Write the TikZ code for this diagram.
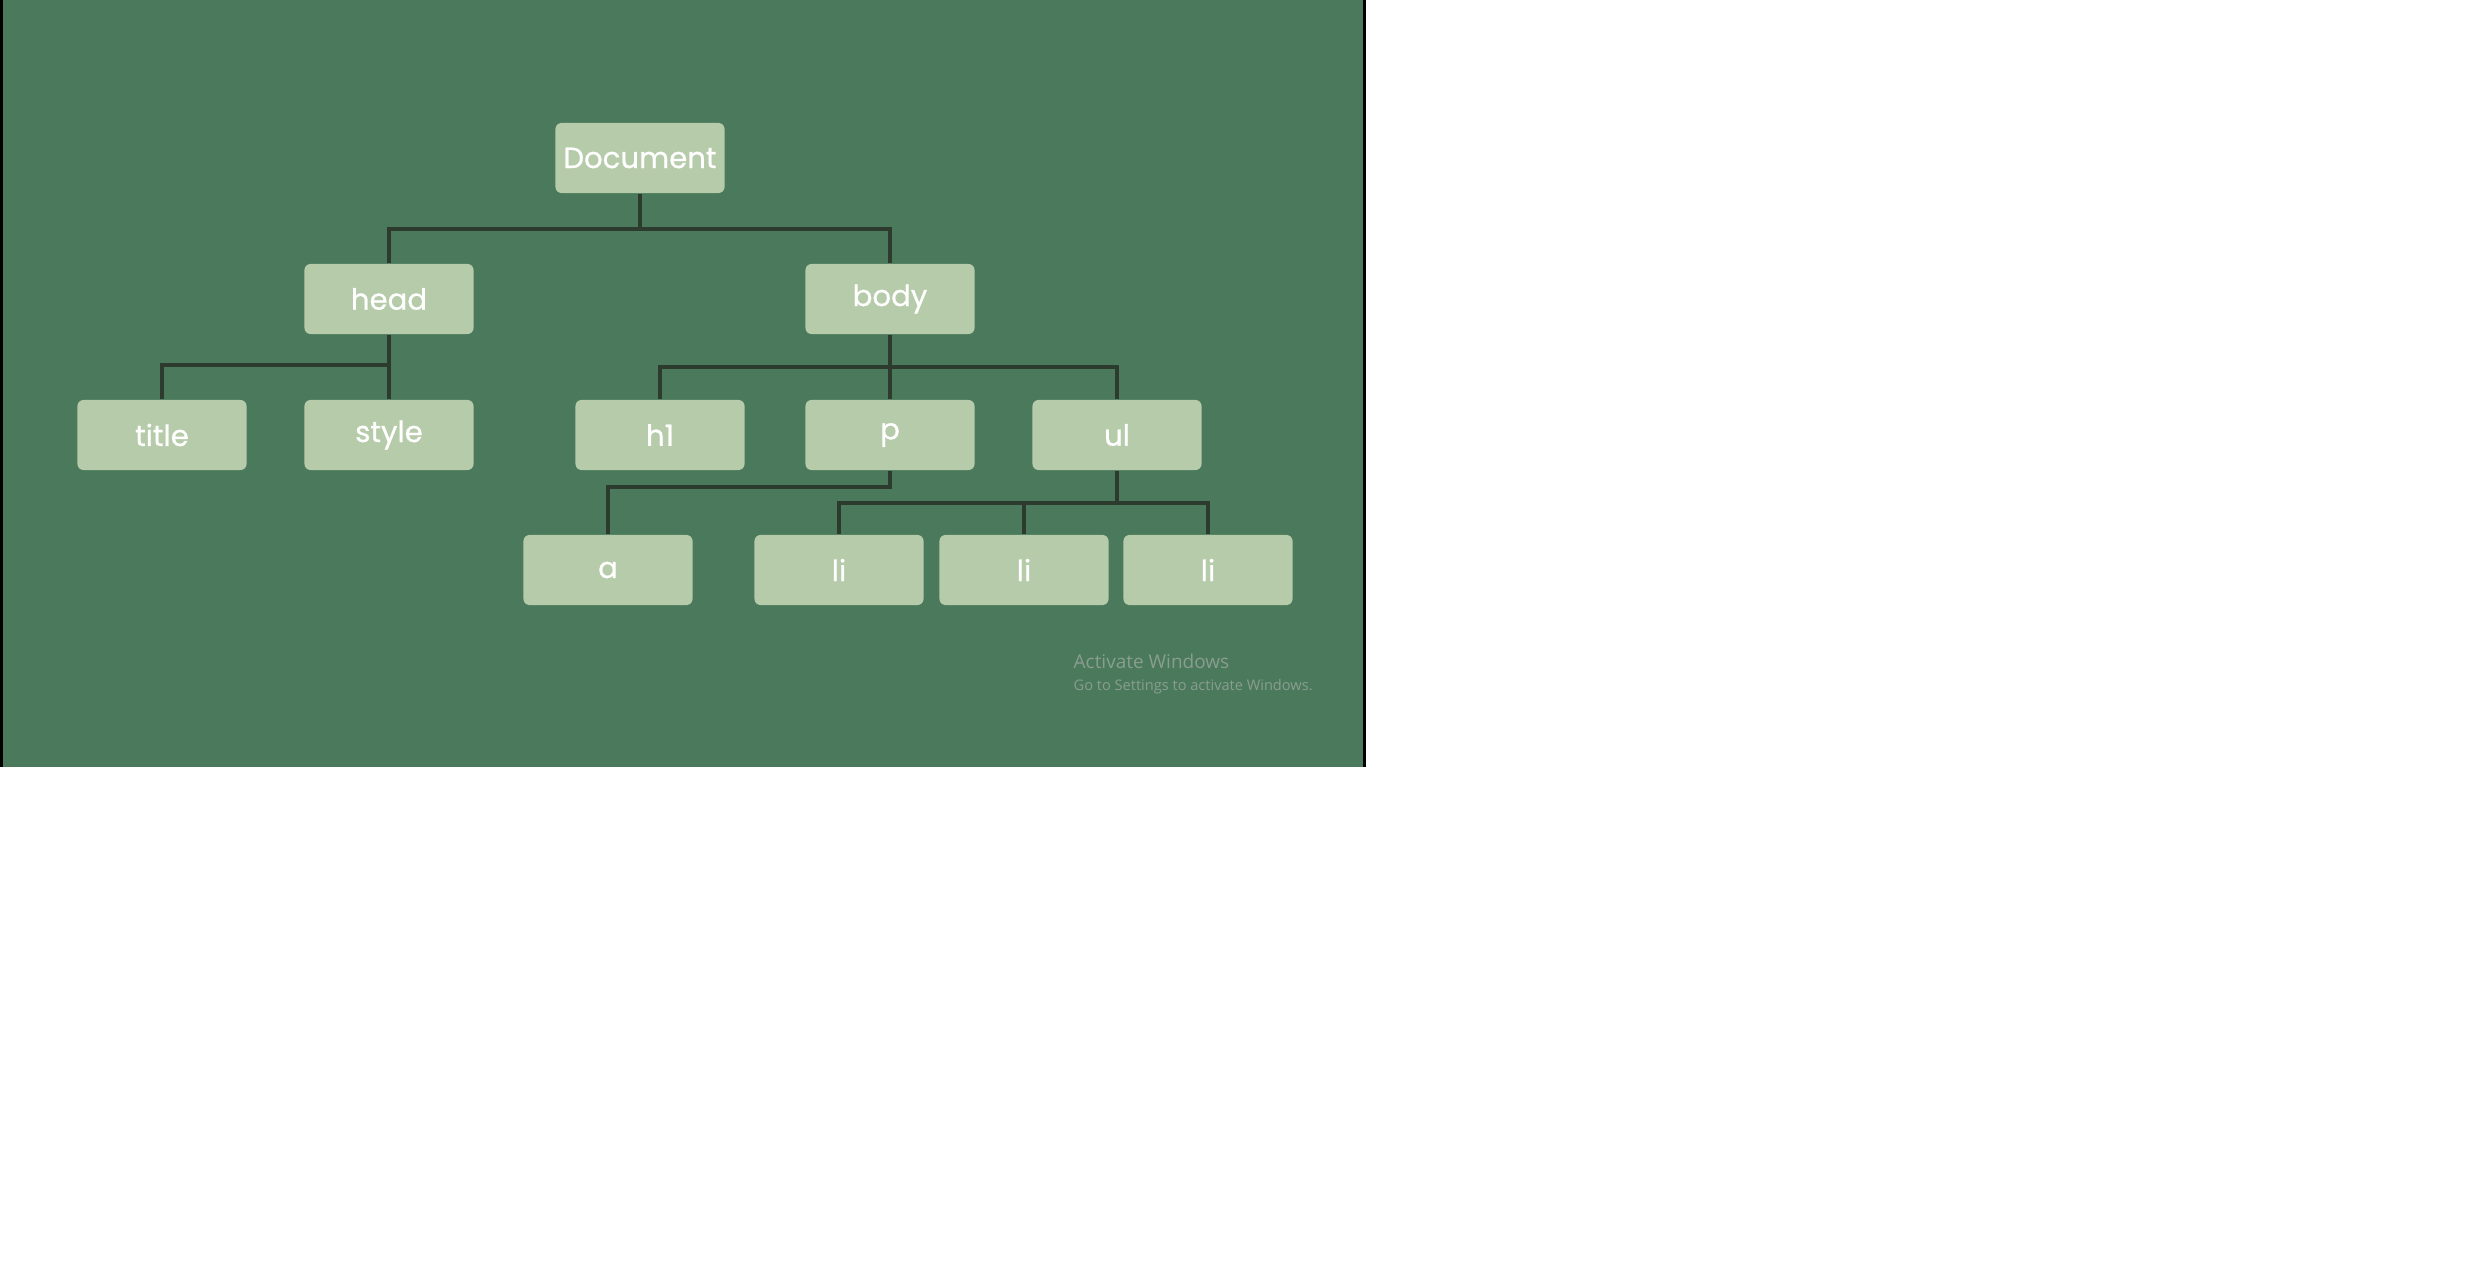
\documentclass[tikz,border=0pt]{standalone}
\usepackage{fontspec}
\newfontfamily\boxfont[FakeBold=0.7]{Poppins}
\newfontfamily\winfont{Open Sans}
\definecolor{bggreen}{HTML}{4A795C}
\definecolor{boxgreen}{HTML}{B6CBA9}
\definecolor{linkdark}{HTML}{2D3A2E}
\definecolor{wingray}{HTML}{8A9E90}
\tikzset{
    tag/.style={rectangle, rounded corners=0.06cm, fill=boxgreen, text=white,
        minimum width=1.69cm, minimum height=0.70cm, inner sep=0pt,
        font=\boxfont\fontsize{8.3}{10}\selectfont},
    link/.style={draw=linkdark, line width=1pt},
    wintext/.style={anchor=base west, text=wingray, inner sep=0pt}
}
\begin{document}
\begin{tikzpicture}[x=0.01cm, y=-0.01cm]
        \useasboundingbox (0,0) rectangle (2480,1264);
        \fill[white] (0,0) rectangle (2480,1264);
        \fill[bggreen] (0,0) rectangle (1366,767);
        \fill[black] (0,0) rectangle (3,767);
        \fill[black] (1363,0) rectangle (1366,767);

        \node[tag] (doc) at (640,158) {Document};
        \node[tag] (head) at (389,299) {head};
        \node[tag] (body) at (890,299) {body};
        \node[tag] (title) at (162,435) {title};
        \node[tag] (style) at (389,435) {style};
        \node[tag] (h1) at (660,435) {h1};
        \node[tag] (p) at (890,435) {p};
        \node[tag] (ul) at (1117,435) {ul};
        \node[tag] (a) at (608,570) {a};
        \node[tag] (li1) at (839,570) {li};
        \node[tag] (li2) at (1024,570) {li};
        \node[tag] (li3) at (1208,570) {li};

        \coordinate (docbus) at (640,229);
        \coordinate (headbus) at (389,365);
        \coordinate (bodybus) at (890,367);
        \coordinate (pbus) at (890,487);
        \coordinate (ulbus) at (1117,503);

        \draw[link] (doc.south) -- (docbus);
        \draw[link] (head.north) |- (docbus) -| (body.north);

        \draw[link] (head.south) -- (style.north);
        \draw[link] (title.north) |- (headbus);

        \draw[link] (body.south) -- (p.north);
        \draw[link] (h1.north) |- (bodybus) -| (ul.north);

        \draw[link] (p.south) -- (pbus) -| (a.north);

        \draw[link] (ul.south) -- (ulbus);
        \draw[link] (li1.north) |- (ulbus) -| (li3.north);
        \draw[link] (li2.north) -- (li2.north |- ulbus);

        \node[wintext, font=\winfont\fontsize{5.4}{6}\selectfont] (act) at (1073,669) {Activate Windows};
        \node[wintext, font=\winfont\fontsize{4.15}{5}\selectfont] (goto) at (1073,691) {Go to Settings to activate Windows.};
    \end{tikzpicture}
\end{document}
